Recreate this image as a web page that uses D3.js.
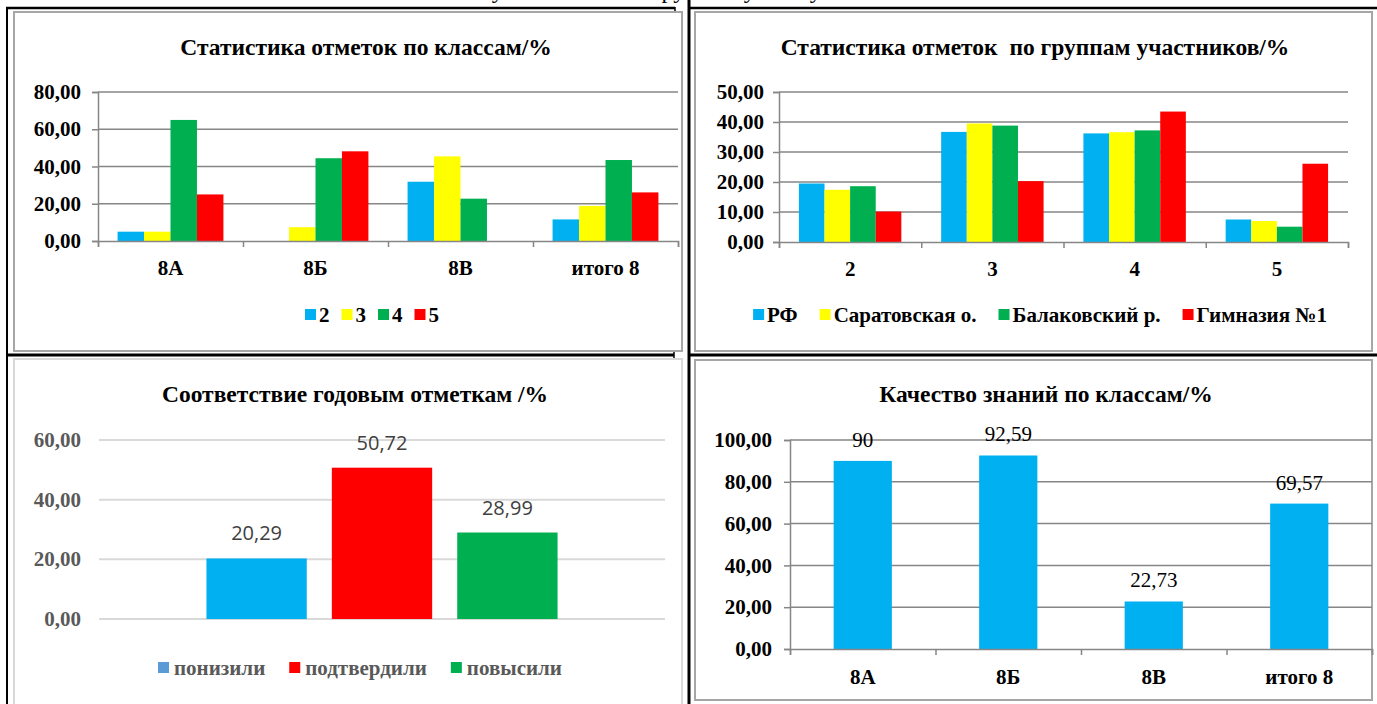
<!DOCTYPE html>
<html><head><meta charset="utf-8">
<script src="https://cdn.jsdelivr.net/npm/d3@7"></script>
<style>
html,body{margin:0;padding:0;background:#fff;overflow:hidden}
svg{display:block}
</style></head>
<body>
<svg id="c" width="1377" height="704"></svg>
<script>
// ---------- DATA ----------
const classCats = ["8А", "8Б", "8В", "итого 8"];
const gradeSeries = ["2", "3", "4", "5"];
const grade2 = [5.00, 0.00, 31.82, 11.59];
const grade3 = [5.00, 7.41, 45.45, 18.84];
const grade4 = [65.00, 44.44, 22.73, 43.48];
const grade5 = [25.00, 48.15, 0.00, 26.09];
const ticks1 = [0, 20, 40, 60, 80];

const groupCats = ["2", "3", "4", "5"];
const groupSeries = ["РФ", "Саратовская о.", "Балаковский р.", "Гимназия №1"];
const rfVals = [19.5, 36.7, 36.2, 7.5];
const saratovVals = [17.4, 39.5, 36.6, 7.0];
const balakovoVals = [18.6, 38.8, 37.2, 5.1];
const gymnasiumVals = [10.14, 20.29, 43.48, 26.09];
const ticks2 = [0, 10, 20, 30, 40, 50];

const matchSeries = ["понизили", "подтвердили", "повысили"];
const matchVals = [20.29, 50.72, 28.99];
const ticks3 = [0, 20, 40, 60];

const qualityCats = ["8А", "8Б", "8В", "итого 8"];
const qualityVals = [90, 92.59, 22.73, 69.57];
const ticks4 = [0, 20, 40, 60, 80, 100];

// ---------- STYLE ----------
const C_BLUE = "#00B0F0", C_YEL = "#FFFF00", C_GRN = "#00B050", C_RED = "#FF0000";
const SERIF = "'Liberation Serif','Times New Roman',serif";
const AX = 21;      // axis / legend font size
const TT = 23.5;    // title font size
const fmt2 = v => v.toFixed(2).replace(".", ",");
const fmtLbl = v => Number.isInteger(v) ? String(v) : fmt2(v);

const svg = d3.select("#c");

// cut-off heading at the very top (only descenders visible, as in the source)
svg.append("text").attr("x", 680).attr("y", -2).attr("text-anchor", "middle")
  .attr("font-family", SERIF).attr("font-size", 24).attr("fill", "#000")
  .text("Результаты ВПР по русскому языку 8 класс");

// chart frames
function frame(x, y, w, h, col) {
  svg.append("rect").attr("x", x).attr("y", y).attr("width", w).attr("height", h)
    .attr("fill", "#fff").attr("stroke", col).attr("stroke-width", 2);
}
frame(14, 12, 668, 339, "#a6a6a6");
frame(695, 12, 677, 339, "#a6a6a6");
frame(14, 359, 668, 350, "#d9d9d9");
frame(695, 360, 677, 340, "#a6a6a6");

// black table lines
const bl = (x1, y1, x2, y2, w) => svg.append("line").attr("x1", x1).attr("y1", y1)
  .attr("x2", x2).attr("y2", y2).attr("stroke", "#000").attr("stroke-width", w);
bl(7, 7, 7, 704, 2);
bl(6, 8, 675, 8, 2.5);
bl(675, 7, 675, 11, 1.5);
bl(689, 0, 689, 704, 3);
bl(689, 8, 1377, 8, 2.5);
bl(7, 355, 674, 355, 3);
bl(674, 352, 674, 358, 1.5);
bl(689, 355, 1377, 355, 3);

function title(txt, cx, y) {
  svg.append("text").attr("x", cx).attr("y", y).attr("text-anchor", "middle")
    .attr("xml:space", "preserve").style("white-space", "pre")
    .attr("font-family", SERIF).attr("font-weight", "bold").attr("font-size", TT)
    .attr("fill", "#000").text(txt);
}

// ---------- generic clustered chart with Excel-like axes ----------
function clustered(opt) {
  const g = svg.append("g");
  const x0 = d3.scaleBand().domain(opt.cats).range([opt.x0, opt.x1])
    .paddingInner(opt.pad).paddingOuter(opt.pad / 2);
  const x1 = d3.scaleBand().domain(opt.series.map((s, i) => i)).range([0, x0.bandwidth()]);
  const y = d3.scaleLinear().domain([0, d3.max(opt.ticks)]).range([opt.yb, opt.yt]);
  g.selectAll(".grid").data(opt.ticks.filter(t => t > 0)).join("line")
    .attr("x1", opt.x0).attr("x2", opt.x1).attr("y1", d => y(d)).attr("y2", d => y(d))
    .attr("stroke", "#868686").attr("stroke-width", 1.5);
  const ya = d3.axisLeft(y).tickValues(opt.ticks).tickSize(6).tickFormat(fmt2);
  const yg = g.append("g").attr("transform", `translate(${opt.x0},0)`).call(ya);
  yg.attr("font-family", SERIF).attr("font-size", AX);
  yg.select(".domain").attr("stroke", "#868686").attr("stroke-width", 1.5);
  yg.selectAll(".tick line").attr("stroke", "#868686").attr("stroke-width", 1.5);
  yg.selectAll(".tick text").attr("font-family", SERIF).attr("font-weight", "bold")
    .attr("font-size", AX).attr("fill", "#000").attr("x", -opt.lgap);
  opt.series.forEach((s, si) => {
    g.selectAll(".b" + si).data(opt.vals[si]).join("rect")
      .attr("x", (d, i) => x0(opt.cats[i]) + x1(si)).attr("width", x1.bandwidth())
      .attr("y", d => y(d)).attr("height", d => y(0) - y(d)).attr("fill", opt.colors[si]);
  });
  const xb = d3.scalePoint().domain(d3.range(opt.cats.length + 1)).range([opt.x0, opt.x1]);
  const xa = d3.axisBottom(xb).tickSize(6).tickFormat("");
  const xg = g.append("g").attr("transform", `translate(0,${opt.yb})`).call(xa);
  xg.select(".domain").attr("stroke", "#868686").attr("stroke-width", 1.5);
  xg.selectAll(".tick line").attr("stroke", "#868686").attr("stroke-width", 1.5);
  g.selectAll(".cl").data(opt.cats).join("text")
    .attr("x", d => x0(d) + x0.bandwidth() / 2).attr("y", opt.labY)
    .attr("text-anchor", "middle").attr("font-family", SERIF).attr("font-weight", "bold")
    .attr("font-size", AX).attr("fill", "#000").text(d => d);
  return { g, x0, x1, y };
}

function legend(items, colors, cx, y, off, gap, textCol) {
  const g = svg.append("g");
  let x = 0;
  const parts = [];
  items.forEach((t, i) => {
    const sq = g.append("rect").attr("y", y - 6).attr("width", 11).attr("height", 11).attr("fill", colors[i]);
    const tx = g.append("text").attr("y", y + 7).attr("font-family", SERIF).attr("font-weight", "bold")
      .attr("font-size", AX).attr("fill", textCol).text(t);
    parts.push([sq, tx]);
  });
  parts.forEach(([sq, tx]) => {
    sq.attr("x", x);
    tx.attr("x", x + off);
    x += off + tx.node().getComputedTextLength() + gap;
  });
  const w = x - gap;
  g.attr("transform", `translate(${cx - w / 2},0)`);
}

// ---------- Chart 1 ----------
title("Статистика отметок по классам/%", 366, 55);
clustered({ cats: classCats, series: gradeSeries, vals: [grade2, grade3, grade4, grade5],
  colors: [C_BLUE, C_YEL, C_GRN, C_RED], ticks: ticks1,
  x0: 98, x1: 678, yt: 92, yb: 241, pad: 0.27, labY: 275, lgap: 17 });
legend(gradeSeries, [C_BLUE, C_YEL, C_GRN, C_RED], 372, 315, 14, 12, "#000");

// ---------- Chart 2 ----------
title("Статистика отметок  по группам участников/%", 1035, 55);
clustered({ cats: groupCats, series: groupSeries,
  vals: [rfVals, saratovVals, balakovoVals, gymnasiumVals],
  colors: [C_BLUE, C_YEL, C_GRN, C_RED], ticks: ticks2,
  x0: 779, x1: 1348, yt: 92, yb: 242, pad: 0.28, labY: 276, lgap: 15 });
legend(groupSeries, [C_BLUE, C_YEL, C_GRN, C_RED], 1040, 315, 14, 22, "#000");

// ---------- Chart 3 ----------
title("Соответствие годовым отметкам /%", 355, 402);
(function () {
  const g = svg.append("g");
  const xc = d3.scaleBand().domain(["all"]).range([99, 665]).paddingInner(0).paddingOuter(0.306);
  const xs = d3.scaleBand().domain(matchSeries).range([xc("all"), xc("all") + xc.bandwidth()])
    .paddingInner(0.2).paddingOuter(0);
  const y = d3.scaleLinear().domain([0, 60]).range([619, 440]);
  g.selectAll(".grid").data(ticks3).join("line")
    .attr("x1", 99).attr("x2", 665).attr("y1", d => y(d)).attr("y2", d => y(d))
    .attr("stroke", "#d9d9d9").attr("stroke-width", 2);
  g.selectAll(".yl").data(ticks3).join("text")
    .attr("x", 81).attr("y", d => y(d) + 7).attr("text-anchor", "end")
    .attr("font-family", SERIF).attr("font-weight", "bold").attr("font-size", AX)
    .attr("fill", "#595959").text(fmt2);
  const cols = [C_BLUE, C_RED, C_GRN];
  g.selectAll(".bar").data(matchVals).join("rect")
    .attr("x", (d, i) => xs(matchSeries[i])).attr("width", xs.bandwidth())
    .attr("y", d => y(d)).attr("height", d => y(0) - y(d)).attr("fill", (d, i) => cols[i]);
  g.selectAll(".dl").data(matchVals).join("text")
    .attr("x", (d, i) => xs(matchSeries[i]) + xs.bandwidth() / 2).attr("y", d => y(d) - 18)
    .attr("text-anchor", "middle").attr("font-family", "'Open Sans',sans-serif")
    .attr("font-size", 20).attr("fill", "#404040").text(fmt2);
})();
legend(matchSeries, ["#5B9BD5", C_RED, C_GRN], 360, 668, 16, 24, "#595959");

// ---------- Chart 4 ----------
title("Качество знаний по классам/%", 1046, 402);
(function () {
  const r = clustered({ cats: qualityCats, series: ["q"], vals: [qualityVals],
    colors: [C_BLUE], ticks: ticks4, x0: 790, x1: 1372, yt: 440, yb: 649, pad: 0.6, labY: 684, lgap: 18 });
  r.g.selectAll(".vl").data(qualityVals).join("text")
    .attr("x", (d, i) => r.x0(qualityCats[i]) + r.x0.bandwidth() / 2).attr("y", d => r.y(d) - 14)
    .attr("text-anchor", "middle").attr("font-family", SERIF).attr("font-size", 21)
    .attr("fill", "#000").text(fmtLbl);
})();
</script>
</body></html>
